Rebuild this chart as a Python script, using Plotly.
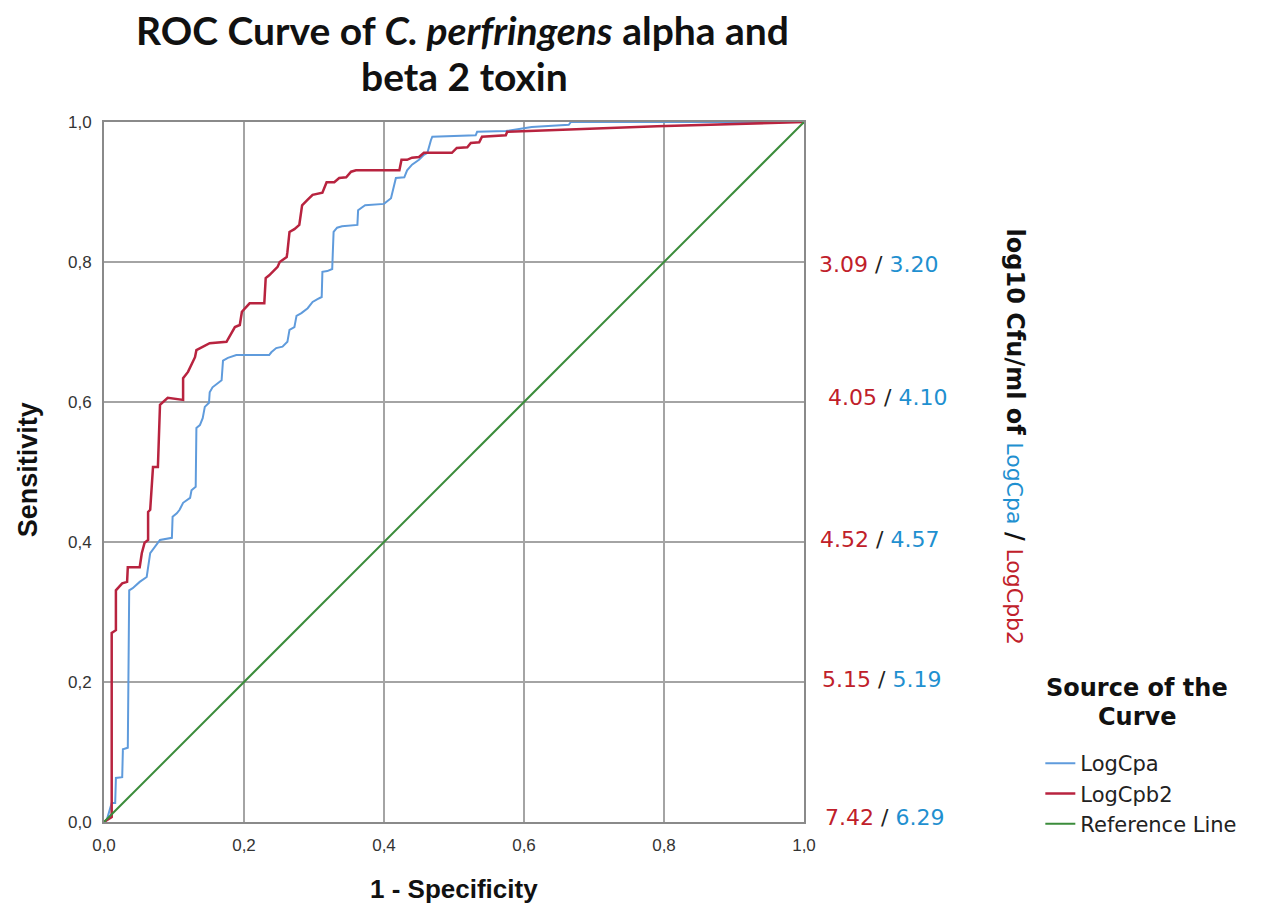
import plotly.graph_objects as go

# ROC curve points (1 - Specificity, Sensitivity)
cpa_fpr = [0, 0.004, 0.011, 0.016, 0.017, 0.026, 0.027, 0.034, 0.036, 0.041, 0.051, 0.061, 0.066, 0.073,
           0.080, 0.097, 0.098, 0.104, 0.108, 0.113, 0.123, 0.125, 0.131, 0.132, 0.137, 0.141, 0.144, 0.150,
           0.151, 0.155, 0.162, 0.168, 0.170, 0.177, 0.189, 0.236, 0.239, 0.246, 0.255, 0.262, 0.265, 0.272,
           0.275, 0.282, 0.291, 0.298, 0.305, 0.311, 0.312, 0.319, 0.326, 0.328, 0.333, 0.340, 0.362, 0.363,
           0.373, 0.400, 0.410, 0.417, 0.429, 0.433, 0.440, 0.450, 0.457, 0.462, 0.467, 0.469, 0.531, 0.533,
           0.574, 0.611, 0.664, 0.667, 1.0]
cpa_tpr = [0, 0.003, 0.027, 0.027, 0.063, 0.064, 0.104, 0.106, 0.331, 0.334, 0.343, 0.350, 0.384, 0.394,
           0.403, 0.406, 0.436, 0.441, 0.446, 0.456, 0.463, 0.474, 0.479, 0.563, 0.567, 0.577, 0.593, 0.599,
           0.614, 0.621, 0.627, 0.631, 0.659, 0.663, 0.667, 0.667, 0.671, 0.677, 0.679, 0.686, 0.703, 0.707,
           0.723, 0.727, 0.734, 0.743, 0.747, 0.750, 0.786, 0.787, 0.790, 0.843, 0.849, 0.851, 0.853, 0.874,
           0.881, 0.883, 0.891, 0.920, 0.921, 0.931, 0.939, 0.946, 0.953, 0.956, 0.974, 0.979, 0.981, 0.986,
           0.987, 0.993, 0.996, 1.0, 1.0]

cpb2_fpr = [0, 0.011, 0.011, 0.017, 0.017, 0.026, 0.033, 0.034, 0.051, 0.054, 0.058, 0.063, 0.063, 0.066,
            0.070, 0.077, 0.080, 0.084, 0.091, 0.113, 0.113, 0.120, 0.125, 0.130, 0.132, 0.151, 0.175, 0.179,
            0.187, 0.194, 0.197, 0.208, 0.229, 0.231, 0.236, 0.248, 0.251, 0.261, 0.262, 0.265, 0.272, 0.279,
            0.283, 0.291, 0.298, 0.312, 0.318, 0.329, 0.336, 0.346, 0.353, 0.360, 0.422, 0.425, 0.433, 0.440,
            0.450, 0.457, 0.497, 0.504, 0.519, 0.524, 0.536, 0.540, 0.574, 0.576, 0.607, 0.790, 1.0]
cpb2_tpr = [0, 0.007, 0.270, 0.274, 0.331, 0.341, 0.343, 0.364, 0.364, 0.384, 0.399, 0.403, 0.443, 0.446,
            0.507, 0.507, 0.596, 0.600, 0.606, 0.603, 0.634, 0.643, 0.653, 0.664, 0.674, 0.684, 0.686, 0.693,
            0.707, 0.710, 0.729, 0.741, 0.741, 0.777, 0.781, 0.793, 0.800, 0.807, 0.814, 0.843, 0.847, 0.853,
            0.881, 0.889, 0.896, 0.899, 0.914, 0.914, 0.920, 0.921, 0.929, 0.931, 0.931, 0.946, 0.946, 0.949,
            0.950, 0.956, 0.956, 0.963, 0.964, 0.970, 0.971, 0.979, 0.981, 0.986, 0.987, 0.994, 1.0]

ref_x = [0, 1]
ref_y = [0, 1]

tick_vals = [0, 0.2, 0.4, 0.6, 0.8, 1.0]
tick_text = ["0,0", "0,2", "0,4", "0,6", "0,8", "1,0"]

# cut-off labels (log10 cfu/ml) at sensitivity levels
cut_levels = [0.796, 0.607, 0.403, 0.203, 0.007]
cut_cpb2 = ["3.09", "4.05", "4.52", "5.15", "7.42"]
cut_cpa = ["3.20", "4.10", "4.57", "5.19", "6.29"]

BLUE = "#5f9bdc"
RED = "#b8233f"
GREEN = "#3b8c3b"
LBL_RED = "#c0202a"
LBL_BLUE = "#1f90d0"

# page is offset by the 8px body margin; plot area in screen px: x 104..806, y 122..822
PL, PR, PT, PB = 104, 806, 122, 822


def px_x(px):
    return (px - PL) / (PR - PL)


def px_y(py):
    return (PB - py) / (PB - PT)


fig = go.Figure()
fig.add_trace(go.Scatter(x=cpa_fpr, y=cpa_tpr, mode="lines", name="LogCpa",
                         line=dict(color=BLUE, width=2)))
fig.add_trace(go.Scatter(x=cpb2_fpr, y=cpb2_tpr, mode="lines", name="LogCpb2",
                         line=dict(color=RED, width=2.5)))
fig.add_trace(go.Scatter(x=ref_x, y=ref_y, mode="lines", name="Reference Line",
                         line=dict(color=GREEN, width=2)))

annotations = []
# Title (two lines)
annotations.append(dict(
    text="<b>ROC Curve of <i>C. perfringens</i> alpha and</b>",
    xref="paper", yref="paper", x=px_x(464), y=px_y(30),
    xanchor="center", yanchor="middle", showarrow=False,
    font=dict(family="Lato", size=39, color="#111")))
annotations.append(dict(
    text="<b>beta 2 toxin</b>",
    xref="paper", yref="paper", x=px_x(466), y=px_y(76),
    xanchor="center", yanchor="middle", showarrow=False,
    font=dict(family="Lato", size=39, color="#111")))
# Axis titles
annotations.append(dict(text="<b>1 - Specificity</b>", xref="paper", yref="paper",
                        x=px_x(455), y=px_y(889), xanchor="center", yanchor="middle",
                        showarrow=False, font=dict(family="Liberation Sans", size=26, color="#111")))
annotations.append(dict(text="<b>Sensitivity</b>", xref="paper", yref="paper",
                        x=px_x(28), y=px_y(470), xanchor="center", yanchor="middle",
                        textangle=-90, showarrow=False,
                        font=dict(family="Liberation Sans", size=27, color="#111")))
# Cut-off labels
cut_x = [819, 828, 820, 822, 825]
for lev, r, b, cx in zip(cut_levels, cut_cpb2, cut_cpa, cut_x):
    annotations.append(dict(
        text=f"<span style='color:{LBL_RED}'>{r}</span> / <span style='color:{LBL_BLUE}'>{b}</span>",
        xref="paper", yref="y", x=px_x(cx), y=lev,
        xanchor="left", yanchor="middle", showarrow=False,
        font=dict(family="DejaVu Sans", size=22, color="#222")))
# Right vertical title
annotations.append(dict(
    text="<b>log10 Cfu/ml of</b> <span style='font-size:22px;color:%s'>LogCpa</span> <b>/</b> "
         "<span style='font-size:22px;color:%s'>LogCpb2</span>" % (LBL_BLUE, LBL_RED),
    xref="paper", yref="paper", x=px_x(1018), y=px_y(437),
    xanchor="center", yanchor="middle", textangle=90, showarrow=False,
    font=dict(family="DejaVu Sans", size=24, color="#111")))
# Legend title
annotations.append(dict(text="<b>Source of the</b>", xref="paper", yref="paper",
                        x=px_x(1140), y=px_y(688), xanchor="center", yanchor="middle",
                        showarrow=False, font=dict(family="DejaVu Sans", size=24, color="#111")))
annotations.append(dict(text="<b>Curve</b>", xref="paper", yref="paper",
                        x=px_x(1140), y=px_y(717), xanchor="center", yanchor="middle",
                        showarrow=False, font=dict(family="DejaVu Sans", size=24, color="#111")))

axis_common = dict(range=[0, 1], tickvals=tick_vals, ticktext=tick_text, showgrid=True,
                   gridcolor="#a4a4a4", gridwidth=2, showline=True, linecolor="#8a8a8a", linewidth=2,
                   mirror=True, zeroline=False, ticks="outside", ticklen=7, tickcolor="rgba(0,0,0,0)",
                   fixedrange=True,
                   tickfont=dict(family="Liberation Sans", size=17, color="#333"))

fig.update_layout(
    width=1246, height=898,
    margin=dict(l=PL - 8, r=1246 - (PR - 8), t=PT - 8, b=898 - (PB - 8)),
    paper_bgcolor="white", plot_bgcolor="white",
    xaxis=dict(**axis_common),
    yaxis=dict(**axis_common),
    showlegend=True,
    legend=dict(x=px_x(1043), y=px_y(743), xanchor="left", yanchor="top",
                font=dict(family="DejaVu Sans", size=21, color="#222"),
                bgcolor="rgba(0,0,0,0)", tracegroupgap=0),
    annotations=annotations,
)

fig.write_html("out.html")
